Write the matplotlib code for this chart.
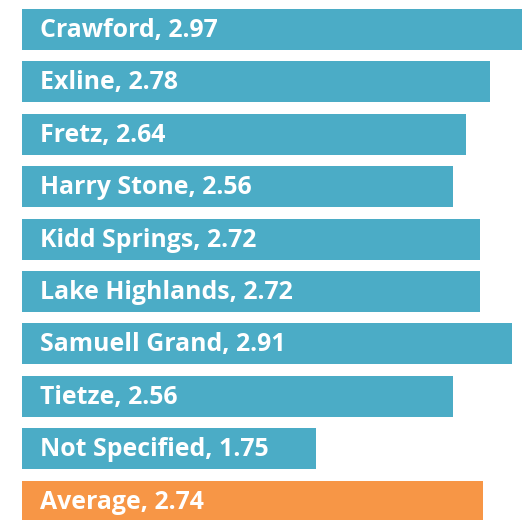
import matplotlib.pyplot as plt

plt.rcParams['font.family'] = ['Open Sans', 'DejaVu Sans']

# Data
schools = ['Crawford', 'Exline', 'Fretz', 'Harry Stone', 'Kidd Springs',
           'Lake Highlands', 'Samuell Grand', 'Tietze', 'Not Specified', 'Average']
scores = [2.97, 2.78, 2.64, 2.56, 2.72, 2.72, 2.91, 2.56, 1.75, 2.74]
label_texts = ['Crawford, 2.97', 'Exline, 2.78', 'Fretz, 2.64', 'Harry Stone, 2.56',
               'Kidd Springs, 2.72', 'Lake Highlands, 2.72', 'Samuell Grand, 2.91',
               'Tietze, 2.56', 'Not Specified, 1.75', 'Average, 2.74']

blue = '#4BACC6'
orange = '#F79646'
colors = [orange if s == 'Average' else blue for s in schools]

fig = plt.figure(figsize=(5.25, 5.2), dpi=100)
ax = fig.add_axes([22 / 525, 0, 503 / 525, 1])

ypos = list(range(len(schools)))
ax.barh(ypos, scores, height=0.78, color=colors, edgecolor='none')

# white labels inside the bars, near the left edge
for y, txt in zip(ypos, label_texts):
    ax.annotate(txt, xy=(0, y), xytext=(18, -1), textcoords='offset pixels',
                ha='left', va='center', color='white', fontsize=17.9,
                fontweight='bold')

ax.set_xlim(0, 2.99)
ax.set_ylim(9.36, -0.563)
ax.axis('off')

fig.savefig('out.png', dpi=100, facecolor='white')
